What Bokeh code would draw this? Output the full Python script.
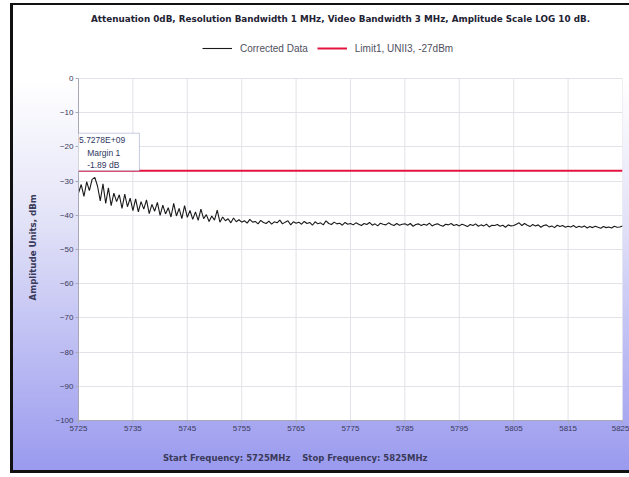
import numpy as np
from bokeh.plotting import figure
from bokeh.models import (FixedTicker, Legend, LegendItem, Label, BoxAnnotation, Range1d)
from bokeh.embed import file_html
from bokeh.resources import INLINE

title_text = "Attenuation 0dB, Resolution Bandwidth 1 MHz, Video Bandwidth 3 MHz, Amplitude Scale LOG 10 dB."
xlabel_text = "Start Frequency: 5725MHz    Stop Frequency: 5825MHz"
ylabel_text = "Amplitude Units, dBm"
series_names = ["Corrected Data", "Limit1, UNII3, -27dBm"]

start_mhz = 5725
stop_mhz = 5825
x_ticks = [5725, 5735, 5745, 5755, 5765, 5775, 5785, 5795, 5805, 5815, 5825]
y_ticks = [0, -10, -20, -30, -40, -50, -60, -70, -80, -90, -100]

limit_dbm = -27
marker_text = ["5.7278E+09", "Margin 1", "-1.89 dB"]

trace_dbm = [
    -33.5, -31.0, -34.5, -30.2, -32.8, -29.5, -28.9, -31.5, -35.8, -30.8, -36.5, -32.0, -37.2, -33.5, -36.0, -34.0, -38.0, -33.8, -37.5, -35.0, -38.6,
    -35.2, -39.0, -36.0, -38.2, -35.5, -39.5, -36.8, -38.8, -36.2, -40.0, -37.0, -39.6, -37.8, -40.5, -36.5, -40.2, -38.0, -41.0, -37.2, -40.6,
    -38.6, -41.2, -39.0, -41.5, -38.2, -41.0, -39.8, -41.8, -40.2, -41.4, -38.5, -42.0, -40.5, -41.6, -41.0, -42.2, -40.8, -41.9, -41.3, -42.0,
    -41.6, -42.3, -41.2, -42.0, -41.8, -42.5, -41.5, -42.1, -42.4, -41.7, -42.6, -41.9, -42.2, -41.4, -42.5, -42.0, -41.6, -42.8, -41.9, -42.3,
    -42.0, -42.6, -41.8, -42.4, -42.1, -42.9, -41.9, -42.5, -42.2, -42.8, -41.6, -42.4, -42.7, -42.0, -42.5, -42.3, -42.9, -42.1, -42.6, -42.4,
    -42.8, -42.2, -42.6, -43.0, -42.4, -42.7, -42.1, -42.9, -42.5, -43.1, -42.3, -42.6, -42.8, -42.2, -42.7, -43.0, -42.4, -42.9, -42.6, -42.5,
    -42.9, -42.4, -43.2, -42.7, -42.5, -43.0, -42.6, -42.9, -42.3, -43.1, -42.7, -42.5, -42.9, -43.2, -42.6, -42.8, -42.4, -43.0, -42.7, -43.1,
    -42.6, -42.9, -43.3, -42.7, -43.0, -42.5, -43.2, -42.8, -43.1, -42.6, -43.4, -42.9, -43.0, -42.7, -43.2, -42.9, -43.5, -42.8, -43.1, -43.0,
    -42.6, -42.2, -43.0, -42.4, -42.9, -43.3, -42.7, -43.1, -42.8, -43.5, -43.0, -42.8, -43.4, -43.1, -43.6, -42.9, -43.3, -43.0, -43.5, -43.2,
    -43.4, -43.0, -43.6, -43.2, -43.5, -43.1, -43.7, -43.3, -43.6, -43.2, -43.5, -43.8, -43.3, -43.6, -43.4, -43.7, -43.2, -43.5, -43.4, -43.1,
]
freq_mhz = np.linspace(start_mhz, stop_mhz, len(trace_dbm))

FONT = "Liberation Sans"
BFONT = "DejaVu Sans"
TXT = "#3a3a5a"

# plot area: 342 px for 100 dB; extra headroom above 0 dB holds title and legend
y_bottom, y_top_axis = min(y_ticks), max(y_ticks)
headroom = (78 - 5) / 342 * (y_top_axis - y_bottom)

p = figure(width=619, height=470, output_backend="svg", toolbar_location=None,
           x_range=Range1d(start_mhz, stop_mhz), y_range=Range1d(y_bottom, y_top_axis + headroom),
           min_border_left=65, min_border_right=10, min_border_top=0, min_border_bottom=55)
p.styles = {"background": "linear-gradient(to bottom, #ffffff 0%, #ffffff 16%, #e4e4f8 45%, #9a9aef 100%)",
            "border-left": "3px solid #111", "border-top": "2px solid #111", "border-bottom": "3px solid #111",
            "box-sizing": "border-box", "overflow": "hidden",
            "margin-left": "10px", "margin-top": "3px"}
p.border_fill_alpha = 0
p.background_fill_color = "white"
p.outline_line_color = None

p.xaxis.ticker = FixedTicker(ticks=x_ticks)
p.yaxis.ticker = FixedTicker(ticks=y_ticks)
p.yaxis.bounds = (y_bottom, y_top_axis)
for ax in (p.xaxis[0], p.yaxis[0]):
    ax.axis_line_color = "#a8a8b8"
    ax.major_tick_line_color = "#a8a8b8"
    ax.minor_tick_line_color = None
    ax.major_tick_in = 0
    ax.major_tick_out = 3
    ax.major_label_text_font = FONT
    ax.major_label_text_font_size = "8px"
    ax.major_label_text_color = TXT
p.xaxis.major_label_standoff = 2
p.yaxis.major_label_standoff = 2
# trailing em spaces keep the label centred on the 0..-100 dB plot area, not on the headroom
p.yaxis.axis_label = ylabel_text + "\u2003" * 8
p.yaxis.axis_label_text_font = BFONT
p.yaxis.axis_label_text_font_size = "8.6px"
p.yaxis.axis_label_text_font_style = "bold"
p.yaxis.axis_label_text_color = TXT
p.yaxis.axis_label_standoff = 14

p.xaxis.axis_label = xlabel_text.replace("    ", "\u00a0\u00a0\u00a0\u00a0") + "\u2003" * 13
p.xaxis.axis_label_text_font = BFONT
p.xaxis.axis_label_text_font_size = "8.5px"
p.xaxis.axis_label_text_font_style = "bold"
p.xaxis.axis_label_text_color = TXT
p.xaxis.axis_label_standoff = 19

p.xgrid.visible = False
p.ygrid.grid_line_color = "#e2e2e8"
p.segment(x0=x_ticks, y0=[y_bottom] * len(x_ticks), x1=x_ticks, y1=[y_top_axis] * len(x_ticks),
          line_color="#e2e2e8", line_width=1)

r_trace = p.line(freq_mhz, trace_dbm, line_color="#1a1a1a", line_width=1.1)
r_limit = p.line([start_mhz, stop_mhz], [limit_dbm, limit_dbm], line_color="#e3143f", line_width=2)

legend = Legend(items=[LegendItem(label=series_names[0], renderers=[r_trace]),
                       LegendItem(label=series_names[1], renderers=[r_limit])],
                orientation="horizontal", location=(124, 366),
                label_text_font=FONT, label_text_font_size="10px", label_text_color="#505060",
                glyph_width=30, glyph_height=12, label_height=12, label_standoff=8,
                spacing=9, padding=0, margin=0, border_line_color=None,
                background_fill_alpha=0)
p.add_layout(legend, "center")

p.add_layout(Label(x=262, y=402, x_units="screen", y_units="screen", text=title_text,
                   text_font=BFONT, text_font_size="8.8px", text_font_style="bold",
                   text_color="#222233", text_align="center", text_baseline="middle"))

box = BoxAnnotation(left=start_mhz - 0.5, right=5736.2, top=-16.0, bottom=limit_dbm,
                    fill_color="white", fill_alpha=1, line_color="#3c5a96", line_width=1)
p.add_layout(box)
for i, t in enumerate(marker_text):
    p.add_layout(Label(x=start_mhz + 0.1 + (1.5 if i > 0 else 0), y=-18.0 - 3.7 * i, text=t,
                       text_font=FONT, text_font_size="8.5px", text_color="#303860",
                       text_baseline="middle"))

open("out.html", "w").write(file_html(p, INLINE))
